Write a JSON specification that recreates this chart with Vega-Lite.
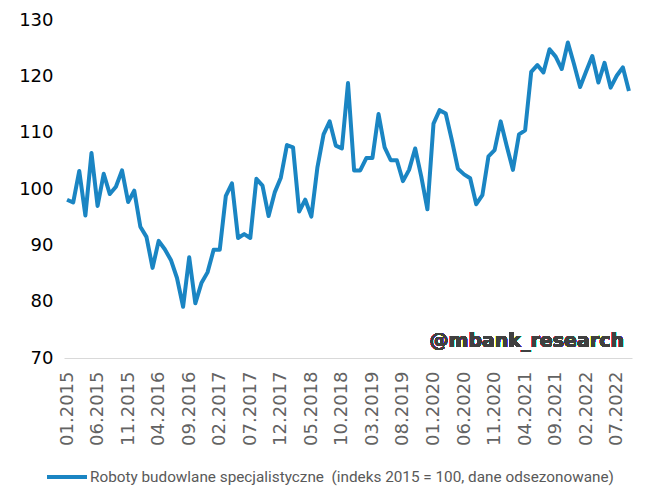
{
  "$schema": "https://vega.github.io/schema/vega-lite/v6.json",
  "width": 568,
  "height": 338,
  "autosize": "none",
  "padding": {"left": 64, "top": 20, "right": 20, "bottom": 146},
  "background": "white",
  "config": {"view": {"stroke": null}, "font": "DejaVu Sans"},
  "data": {"values": [
    {"month": "01.2015", "value": 98.1},
    {"month": "02.2015", "value": 97.6},
    {"month": "03.2015", "value": 103.2},
    {"month": "04.2015", "value": 95.3},
    {"month": "05.2015", "value": 106.4},
    {"month": "06.2015", "value": 97.0},
    {"month": "07.2015", "value": 102.7},
    {"month": "08.2015", "value": 99.1},
    {"month": "09.2015", "value": 100.4},
    {"month": "10.2015", "value": 103.3},
    {"month": "11.2015", "value": 97.7},
    {"month": "12.2015", "value": 99.7},
    {"month": "01.2016", "value": 93.3},
    {"month": "02.2016", "value": 91.5},
    {"month": "03.2016", "value": 86.0},
    {"month": "04.2016", "value": 90.8},
    {"month": "05.2016", "value": 89.3},
    {"month": "06.2016", "value": 87.4},
    {"month": "07.2016", "value": 84.2},
    {"month": "08.2016", "value": 79.1},
    {"month": "09.2016", "value": 87.9},
    {"month": "10.2016", "value": 79.7},
    {"month": "11.2016", "value": 83.3},
    {"month": "12.2016", "value": 85.2},
    {"month": "01.2017", "value": 89.2},
    {"month": "02.2017", "value": 89.2},
    {"month": "03.2017", "value": 98.8},
    {"month": "04.2017", "value": 101.0},
    {"month": "05.2017", "value": 91.3},
    {"month": "06.2017", "value": 92.0},
    {"month": "07.2017", "value": 91.3},
    {"month": "08.2017", "value": 101.8},
    {"month": "09.2017", "value": 100.6},
    {"month": "10.2017", "value": 95.2},
    {"month": "11.2017", "value": 99.4},
    {"month": "12.2017", "value": 102.0},
    {"month": "01.2018", "value": 107.8},
    {"month": "02.2018", "value": 107.4},
    {"month": "03.2018", "value": 96.0},
    {"month": "04.2018", "value": 98.1},
    {"month": "05.2018", "value": 95.1},
    {"month": "06.2018", "value": 103.9},
    {"month": "07.2018", "value": 109.7},
    {"month": "08.2018", "value": 112.0},
    {"month": "09.2018", "value": 107.7},
    {"month": "10.2018", "value": 107.2},
    {"month": "11.2018", "value": 118.8},
    {"month": "12.2018", "value": 103.3},
    {"month": "01.2019", "value": 103.3},
    {"month": "02.2019", "value": 105.5},
    {"month": "03.2019", "value": 105.5},
    {"month": "04.2019", "value": 113.3},
    {"month": "05.2019", "value": 107.4},
    {"month": "06.2019", "value": 105.1},
    {"month": "07.2019", "value": 105.1},
    {"month": "08.2019", "value": 101.4},
    {"month": "09.2019", "value": 103.4},
    {"month": "10.2019", "value": 107.2},
    {"month": "11.2019", "value": 102.2},
    {"month": "12.2019", "value": 96.4},
    {"month": "01.2020", "value": 111.6},
    {"month": "02.2020", "value": 114.0},
    {"month": "03.2020", "value": 113.4},
    {"month": "04.2020", "value": 108.7},
    {"month": "05.2020", "value": 103.6},
    {"month": "06.2020", "value": 102.6},
    {"month": "07.2020", "value": 101.9},
    {"month": "08.2020", "value": 97.3},
    {"month": "09.2020", "value": 98.9},
    {"month": "10.2020", "value": 105.8},
    {"month": "11.2020", "value": 106.9},
    {"month": "12.2020", "value": 112.0},
    {"month": "01.2021", "value": 107.6},
    {"month": "02.2021", "value": 103.4},
    {"month": "03.2021", "value": 109.7},
    {"month": "04.2021", "value": 110.4},
    {"month": "05.2021", "value": 120.8},
    {"month": "06.2021", "value": 122.0},
    {"month": "07.2021", "value": 120.7},
    {"month": "08.2021", "value": 124.8},
    {"month": "09.2021", "value": 123.5},
    {"month": "10.2021", "value": 121.3},
    {"month": "11.2021", "value": 126.0},
    {"month": "12.2021", "value": 122.2},
    {"month": "01.2022", "value": 118.1},
    {"month": "02.2022", "value": 120.9},
    {"month": "03.2022", "value": 123.6},
    {"month": "04.2022", "value": 118.9},
    {"month": "05.2022", "value": 122.4},
    {"month": "06.2022", "value": 118.0},
    {"month": "07.2022", "value": 120.1},
    {"month": "08.2022", "value": 121.6},
    {"month": "09.2022", "value": 117.4}
  ]},
  "layer": [
    {
      "mark": {"type": "line", "strokeWidth": 4, "strokeJoin": "round"},
      "encoding": {
        "x": {
          "field": "month",
          "type": "ordinal",
          "sort": null,
          "scale": {"type": "point", "padding": 0.5},
          "axis": {
            "title": null,
            "values": ["01.2015","06.2015","11.2015","04.2016","09.2016","02.2017","07.2017","12.2017","05.2018","10.2018","03.2019","08.2019","01.2020","06.2020","11.2020","04.2021","09.2021","02.2022","07.2022"],
            "labelAngle": -90,
            "labelAlign": "right",
            "labelBaseline": "middle",
            "labelFont": "DejaVu Sans",
            "labelFontSize": 18,
            "labelColor": "#636363",
            "labelPadding": 13,
            "ticks": false,
            "grid": false,
            "domainColor": "#d9d9d9",
            "domainWidth": 1
          }
        },
        "y": {
          "field": "value",
          "type": "quantitative",
          "scale": {"domain": [70, 130], "nice": false, "zero": false},
          "axis": {
            "title": null,
            "values": [70, 80, 90, 100, 110, 120, 130],
            "labelFont": "DejaVu Sans",
            "labelFontSize": 18,
            "labelColor": "#000000",
            "labelPadding": 11,
            "ticks": false,
            "domain": false,
            "grid": false
          }
        },
        "color": {
          "datum": "Roboty budowlane specjalistyczne\u00a0 (indeks 2015 = 100, dane odsezonowane)",
          "scale": {"range": ["#1a85c3"]},
          "legend": {
            "title": null,
            "orient": "none",
            "legendX": -19,
            "legendY": 435,
            "symbolType": "stroke",
            "symbolSize": 1600,
            "symbolStrokeWidth": 4,
            "labelFont": "Roboto",
            "labelFontSize": 15.3,
            "labelColor": "#595959",
            "labelLimit": 0,
            "labelOffset": 1,
            "padding": 0
          }
        }
      }
    },
    {
      "mark": {"type": "text", "text": "@mbank_research", "align": "right", "baseline": "alphabetic", "font": "DejaVu Sans", "fontWeight": "bold", "fontSize": 19, "fill": "#404040", "stroke": null, "strokeWidth": 0, "dx": -5},
      "encoding": {
        "x": {"datum": "09.2022", "type": "ordinal"},
        "y": {"datum": 72, "type": "quantitative"}
      }
    }
  ]
}
